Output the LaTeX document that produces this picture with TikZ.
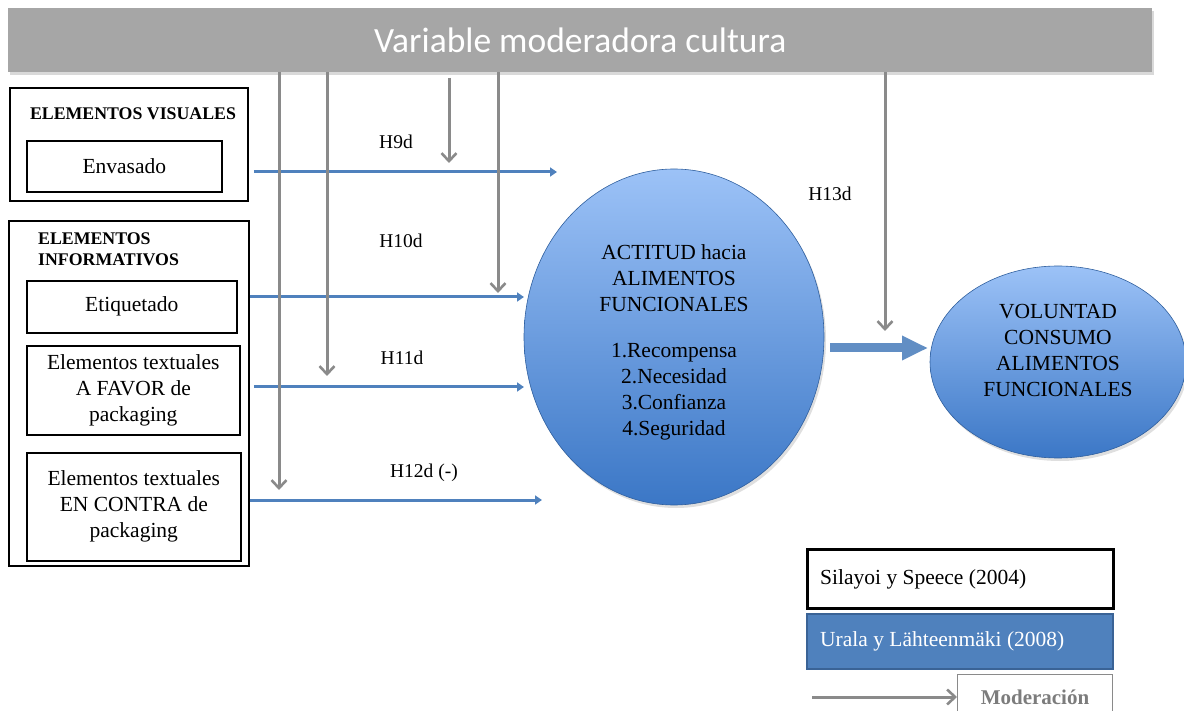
\documentclass[tikz,border=0pt]{standalone}
\usepackage{fontspec}
\setmainfont{Liberation Serif}
\newfontfamily\bannerfont{Carlito}
\usetikzlibrary{arrows.meta,shapes.geometric,shadows}
\definecolor{bannergray}{HTML}{A6A6A6}
\definecolor{modgray}{HTML}{8A8A8A}
\definecolor{linkblue}{HTML}{4F81BD}
\definecolor{elltop}{HTML}{9CC2F7}
\definecolor{ellbot}{HTML}{3B77C6}
\definecolor{legblue}{HTML}{4F81BD}
\definecolor{legedge}{HTML}{3A6396}
\tikzset{
  outerbox/.style={draw, line width=1.8pt, anchor=north west, inner sep=0pt},
  itembox/.style={draw, line width=1.6pt, anchor=north west, inner sep=0pt,
    font=\fontsize{21.5}{26}\selectfont, align=center},
  grouptitle/.style={font=\fontsize{17.8}{21}\selectfont\bfseries, inner sep=0pt},
  hyp/.style={font=\fontsize{19.5}{22}\selectfont, inner sep=0pt},
  bodytext/.style={align=center, font=\fontsize{21.5}{26}\selectfont, inner sep=0pt},
  link/.style={draw=linkblue, line width=3pt, -{Triangle[length=7pt,width=9pt]}},
  modarrow/.style={draw=modgray, line width=3pt, -{Straight Barb[length=8pt,width=15pt,line width=2.6pt]}},
  construct/.style={ellipse, draw=ellbot!80!black, line width=0.6pt, top color=elltop, bottom color=ellbot,
    inner sep=0pt, drop shadow={opacity=0.25, shadow xshift=2pt, shadow yshift=-3pt}},
}
\begin{document}
\begin{tikzpicture}[x=1pt, y=-1pt]
  \useasboundingbox (0,0) rectangle (1184,711);

  % moderating variable banner
  \node[fill=bannergray, minimum width=1144pt, minimum height=64pt, anchor=north west, inner sep=0pt,
        drop shadow={opacity=0.3, shadow xshift=2pt, shadow yshift=-3pt},
        font=\bannerfont\fontsize{35.5}{38}\selectfont, text=white] (banner) at (8,8) {Variable moderadora cultura};

  % visual elements group
  \node[outerbox, minimum width=238pt, minimum height=113pt] (visual) at (9,87) {};
  \node[grouptitle] (visualtitle) at (133,114) {ELEMENTOS VISUALES};
  \node[itembox, minimum width=195pt, minimum height=51pt] (envasado) at (26,140) {Envasado};

  % informative elements group
  \node[outerbox, minimum width=240pt, minimum height=345pt] (info) at (8,220) {};
  \node[grouptitle, anchor=north west, align=left] (infotitle) at (38,233) {ELEMENTOS\\INFORMATIVOS};
  \node[itembox, minimum width=210pt, minimum height=52pt] (etiquetado) at (26,280) {Etiquetado};
  \node[itembox, minimum width=213pt, minimum height=89pt] (favor) at (26,345) {Elementos textuales\\A FAVOR de\\packaging};
  \node[itembox, minimum width=214pt, minimum height=108pt] (contra) at (26,452) {Elementos textuales\\EN CONTRA de\\packaging};

  % constructs
  \node[construct, minimum width=300pt, minimum height=336pt] (actitud) at (674,337) {};
  \node[bodytext] (actitudtext) at (674,342)
    {ACTITUD hacia\\ALIMENTOS\\FUNCIONALES\\[20pt]1.Recompensa\\2.Necesidad\\3.Confianza\\4.Seguridad};
  \node[construct, minimum width=256pt, minimum height=192pt] (voluntad) at (1058,362) {};
  \node[bodytext] (voluntadtext) at (1058,350) {VOLUNTAD\\CONSUMO\\ALIMENTOS\\FUNCIONALES};

  % hypothesis links
  \coordinate (e9) at (557,172);
  \coordinate (e10) at (524,297);
  \coordinate (e11) at (524,387);
  \coordinate (e12) at (542,500);
  \draw[link] ([xshift=5pt]visual.east |- e9) -- (e9);
  \draw[link] (info.east |- e10) -- (e10);
  \draw[link] ([xshift=4pt]info.east |- e11) -- (e11);
  \draw[link] (info.east |- e12) -- (e12);

  \node[hyp] (h9) at (396,142) {H9d};
  \node[hyp] (h10) at (401,241) {H10d};
  \node[hyp] (h11) at (402,358) {H11d};
  \node[hyp] (h12) at (424,473) {H12d (-)};
  \node[hyp] (h13) at (830,194) {H13d};

  % attitude -> intention block arrow
  \coordinate (bstart) at (830,348);
  \coordinate (bend) at (928,348);
  \draw[draw=linkblue!90!white, line width=9pt, -{Triangle[length=26pt,width=23pt]}] (bstart) -- (bend);

  % moderation arrows from the banner
  \coordinate (m1) at (279,490);
  \coordinate (m2) at (327,376);
  \coordinate (m3top) at (449,78);
  \coordinate (m3) at (449,163);
  \coordinate (m4) at (498,293);
  \coordinate (m5) at (885,331);
  \draw[modarrow] (m1 |- banner.south) -- (m1);
  \draw[modarrow] (m2 |- banner.south) -- (m2);
  \draw[modarrow] (m3top) -- (m3);
  \draw[modarrow] (m4 |- banner.south) -- (m4);
  \draw[modarrow] (m5 |- banner.south) -- (m5);

  % legend
  \node[draw, line width=2.6pt, minimum width=306pt, minimum height=59pt, anchor=north west, inner sep=0pt] (legA) at (806,548) {};
  \node[anchor=west, font=\fontsize{21.5}{24}\selectfont, inner sep=0pt] (legAtext) at (820,579) {Silayoi y Speece (2004)};
  \node[draw=legedge, fill=legblue, line width=1.5pt, minimum width=306pt, minimum height=55pt, anchor=north west, inner sep=0pt] (legB) at (806,613) {};
  \node[anchor=west, font=\fontsize{21.5}{24}\selectfont, text=white, inner sep=0pt] (legBtext) at (820,641) {Urala y Lähteenmäki (2008)};
  \node[draw=modgray, line width=1pt, minimum width=155pt, minimum height=44pt, anchor=north west, inner sep=0pt,
        text=modgray!90!black, font=\fontsize{21}{24}\selectfont\bfseries, text depth=0pt] (legC) at (957,674) {\raisebox{-2pt}{Moderación}};
  \coordinate (legCstart) at (812,697);
  \draw[modarrow] (legCstart) -- (legC.west |- legCstart);
\end{tikzpicture}
\end{document}
